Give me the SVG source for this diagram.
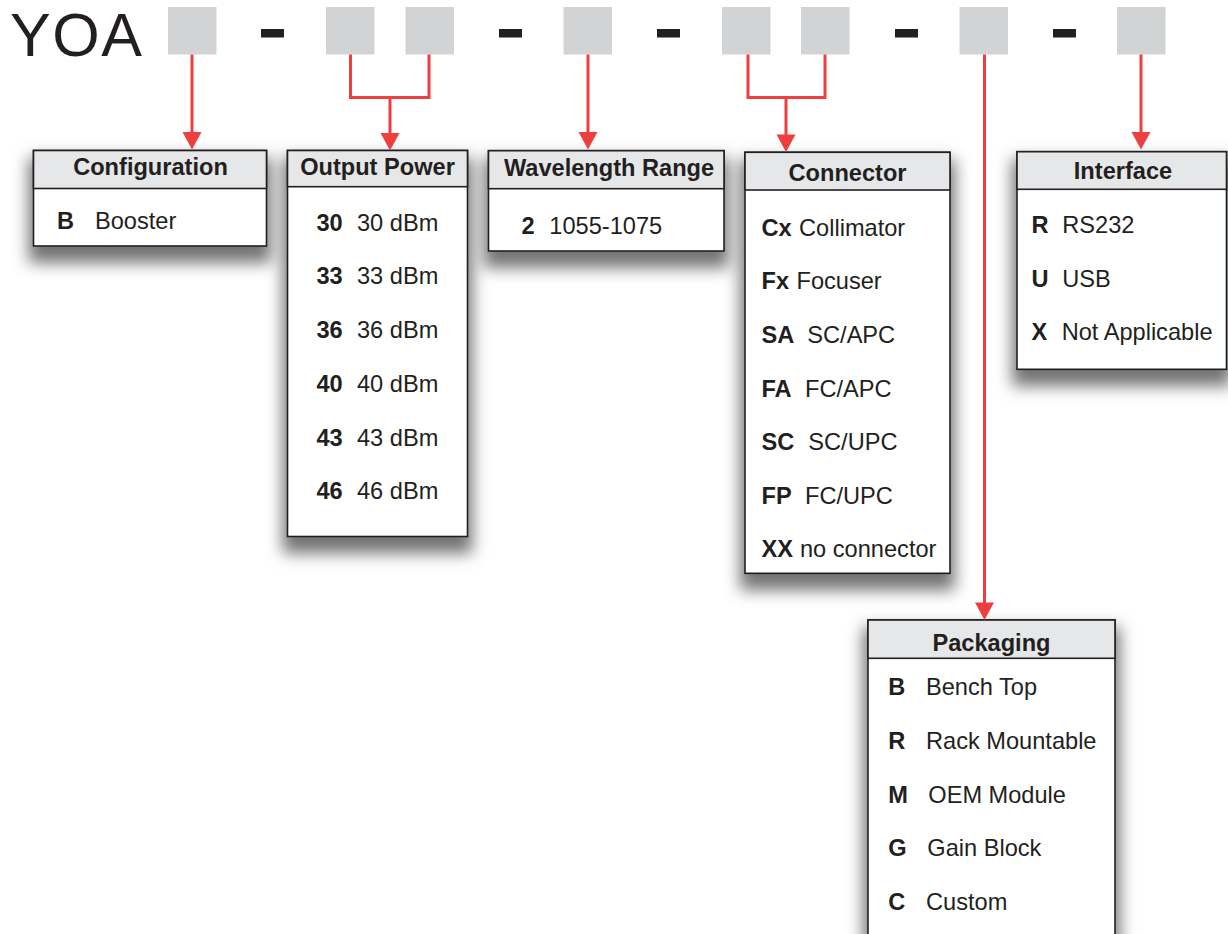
<svg xmlns="http://www.w3.org/2000/svg" width="1228" height="934" viewBox="0 0 1228 934">
<style>
  .slot{fill:#d1d3d4}
  .dash{fill:#231f20}
  .box{fill:#ffffff;stroke:#231f20;stroke-width:1.6}
  .hdr{fill:#e6e7e8;stroke:#231f20;stroke-width:1.6}
  .ttl{font-family:"Liberation Sans",Arial,sans-serif;font-weight:bold;font-size:23.6px;fill:#231f20;text-anchor:middle}
  .k{font-family:"Liberation Sans",Arial,sans-serif;font-weight:bold;font-size:23.6px;fill:#231f20}
  .v{font-family:"Liberation Sans",Arial,sans-serif;font-size:23.6px;fill:#231f20}
  .con{fill:none;stroke:#ee3e3e;stroke-width:3}
  .head{fill:#ee3e3e}
</style>
<defs>
  <filter id="sh" x="-25%" y="-25%" width="150%" height="160%">
    <feMorphology in="SourceAlpha" operator="dilate" radius="4" result="d"/>
    <feGaussianBlur in="d" stdDeviation="8" result="b"/>
    <feOffset in="b" dx="0" dy="12" result="o"/>
    <feFlood flood-color="#000" flood-opacity="0.55"/>
    <feComposite in2="o" operator="in" result="s"/>
    <feMerge><feMergeNode in="s"/><feMergeNode in="SourceGraphic"/></feMerge>
  </filter>
</defs>
<rect width="1228" height="934" fill="#ffffff"/>

<g id="code">
  <text x="10" y="55.5" font-family="'Liberation Sans',Arial,sans-serif" font-size="61" letter-spacing="1.5" fill="#231f20">YOA</text>
  <rect class="slot" x="168" y="7" width="48.5" height="47.5"/>
  <rect class="dash" x="261" y="29" width="23" height="8.5"/>
  <rect class="slot" x="326" y="7" width="48.5" height="47.5"/>
  <rect class="slot" x="405.5" y="7" width="48.5" height="47.5"/>
  <rect class="dash" x="499" y="29" width="23" height="8.5"/>
  <rect class="slot" x="563.5" y="7" width="48.5" height="47.5"/>
  <rect class="dash" x="657" y="29" width="23" height="8.5"/>
  <rect class="slot" x="722" y="7" width="48.5" height="47.5"/>
  <rect class="slot" x="801" y="7" width="48.5" height="47.5"/>
  <rect class="dash" x="895" y="29" width="23" height="8.5"/>
  <rect class="slot" x="959.5" y="7" width="48.5" height="47.5"/>
  <rect class="dash" x="1053" y="29" width="23" height="8.5"/>
  <rect class="slot" x="1117" y="7" width="48.5" height="47.5"/>
</g>

<g id="configuration">
  <rect class="box" x="33.5" y="150.5" width="233" height="95.5" filter="url(#sh)"/>
  <rect class="hdr" x="33.5" y="150.5" width="233" height="38"/>
  <text class="ttl" x="150.5" y="175">Configuration</text>
  <text class="k" x="57" y="229">B</text><text class="v" x="95" y="229">Booster</text>
</g>

<g id="output-power">
  <rect class="box" x="287.5" y="150.5" width="180" height="386" filter="url(#sh)"/>
  <rect class="hdr" x="287.5" y="150.5" width="180" height="36.2"/>
  <text class="ttl" x="377.5" y="175">Output Power</text>
  <text class="k" x="316.5" y="230.7">30</text><text class="v" x="357" y="230.7">30 dBm</text>
  <text class="k" x="316.5" y="284.4">33</text><text class="v" x="357" y="284.4">33 dBm</text>
  <text class="k" x="316.5" y="338.1">36</text><text class="v" x="357" y="338.1">36 dBm</text>
  <text class="k" x="316.5" y="391.8">40</text><text class="v" x="357" y="391.8">40 dBm</text>
  <text class="k" x="316.5" y="445.5">43</text><text class="v" x="357" y="445.5">43 dBm</text>
  <text class="k" x="316.5" y="499.2">46</text><text class="v" x="357" y="499.2">46 dBm</text>
</g>

<g id="wavelength-range">
  <rect class="box" x="488.5" y="150.7" width="235.5" height="100.3" filter="url(#sh)"/>
  <rect class="hdr" x="488.5" y="150.7" width="235.5" height="38"/>
  <text class="ttl" x="609" y="176">Wavelength Range</text>
  <text class="k" x="521.5" y="234.3">2</text><text class="v" x="549.3" y="234.3">1055-1075</text>
</g>

<g id="connector">
  <rect class="box" x="745" y="152.3" width="205" height="421" filter="url(#sh)"/>
  <rect class="hdr" x="745" y="152.3" width="205" height="37.7"/>
  <text class="ttl" x="847.5" y="180.7">Connector</text>
  <text class="k" x="761.5" y="235.7">Cx</text><text class="v" x="799" y="235.7">Collimator</text>
  <text class="k" x="761.5" y="289.3">Fx</text><text class="v" x="796.5" y="289.3">Focuser</text>
  <text class="k" x="761.5" y="343.2">SA</text><text class="v" x="807.3" y="343.2">SC/APC</text>
  <text class="k" x="761.5" y="396.8">FA</text><text class="v" x="805" y="396.8">FC/APC</text>
  <text class="k" x="761.5" y="450.3">SC</text><text class="v" x="808.3" y="450.3">SC/UPC</text>
  <text class="k" x="761.5" y="503.6">FP</text><text class="v" x="805" y="503.6">FC/UPC</text>
  <text class="k" x="761.5" y="557.3">XX</text><text class="v" x="800" y="557.3">no connector</text>
</g>

<g id="interface">
  <rect class="box" x="1017" y="151.7" width="209.5" height="217.6" filter="url(#sh)"/>
  <rect class="hdr" x="1017" y="151.7" width="209.5" height="37.6"/>
  <text class="ttl" x="1123" y="179.3">Interface</text>
  <text class="k" x="1031.5" y="233.3">R</text><text class="v" x="1062.3" y="233.3">RS232</text>
  <text class="k" x="1031.5" y="286.7">U</text><text class="v" x="1062.3" y="286.7">USB</text>
  <text class="k" x="1031.5" y="340">X</text><text class="v" x="1061.7" y="340">Not Applicable</text>
</g>

<g id="packaging">
  <rect class="box" x="868" y="620" width="247" height="340" filter="url(#sh)"/>
  <rect class="hdr" x="868" y="620" width="247" height="38.3"/>
  <text class="ttl" x="991.5" y="650.7">Packaging</text>
  <text class="k" x="888.3" y="695">B</text><text class="v" x="926" y="695">Bench Top</text>
  <text class="k" x="888.3" y="748.5">R</text><text class="v" x="926" y="748.5">Rack Mountable</text>
  <text class="k" x="888.3" y="802.5">M</text><text class="v" x="928.3" y="802.5">OEM Module</text>
  <text class="k" x="888.3" y="856">G</text><text class="v" x="927.3" y="856">Gain Block</text>
  <text class="k" x="888.3" y="910">C</text><text class="v" x="926" y="910">Custom</text>
</g>

<g id="connectors">
  <path class="con" d="M192,54.5 V134"/>
  <polygon class="head" points="182.5,132 201.5,132 192,149.5"/>
  <path class="con" d="M350.5,54.5 V97.5 H429 V54.5 M390,97.5 V134"/>
  <polygon class="head" points="380.5,133 399.5,133 390,150.5"/>
  <path class="con" d="M588,54.5 V134"/>
  <polygon class="head" points="578.5,132 597.5,132 588,149.5"/>
  <path class="con" d="M748,54.5 V97.5 H825 V54.5 M786,97.5 V136"/>
  <polygon class="head" points="776.5,134.5 795.5,134.5 786,152"/>
  <path class="con" d="M984.5,54.5 V604"/>
  <polygon class="head" points="975,602.5 994,602.5 984.5,620"/>
  <path class="con" d="M1141,54.5 V134"/>
  <polygon class="head" points="1131.5,132 1150.5,132 1141,149.5"/>
</g>
</svg>
